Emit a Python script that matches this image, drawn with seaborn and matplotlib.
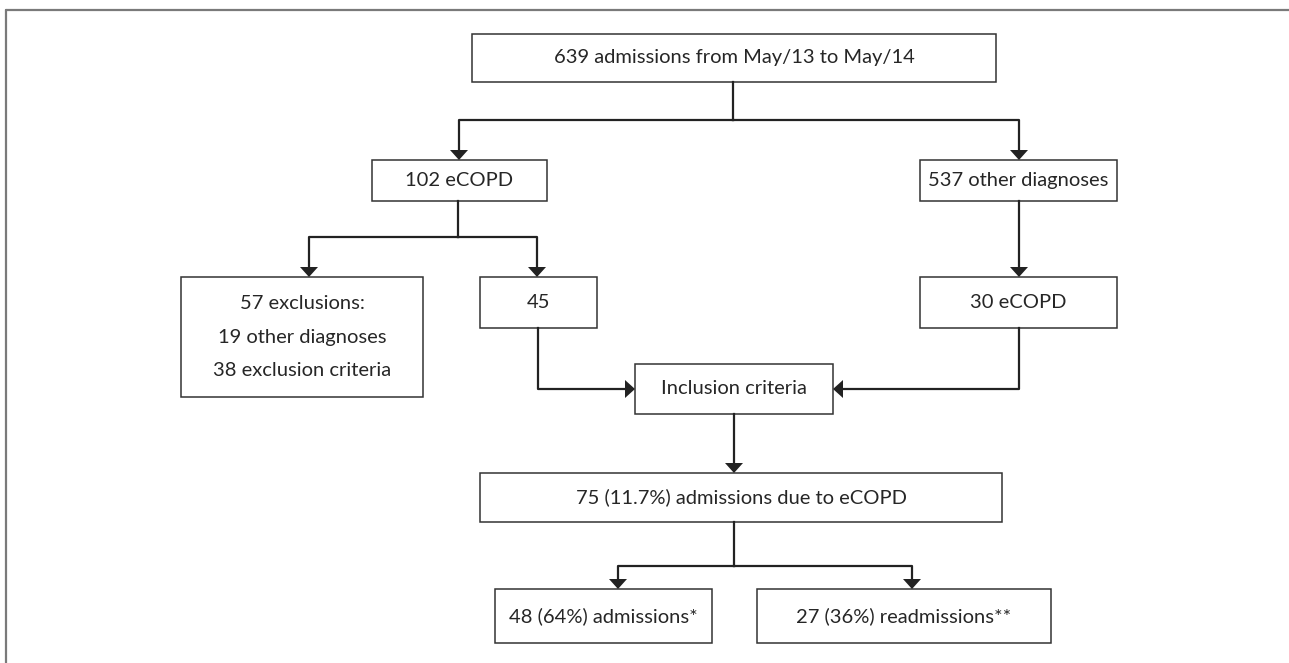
import matplotlib
matplotlib.use("Agg")
import matplotlib.pyplot as plt
from matplotlib.patches import Rectangle, Polygon
from matplotlib.lines import Line2D
import seaborn as sns

# flowchart content
box_names = ["total", "ecopd", "other", "excl", "kept", "other_ecopd",
             "incl", "final", "adm", "readm"]
box_labels = [
    "639 admissions from May/13 to May/14",
    "102 eCOPD",
    "537 other diagnoses",
    "57 exclusions:\n19 other diagnoses\n38 exclusion criteria",
    "45",
    "30 eCOPD",
    "Inclusion criteria",
    "75 (11.7%) admissions due to eCOPD",
    "48 (64%) admissions*",
    "27 (36%) readmissions**",
]

# layout (pixel coords: x0, x1, y0, y1)
box_geom = {
    "total": (472, 996, 34, 82),
    "ecopd": (372, 547, 160, 201),
    "other": (920, 1117, 160, 201),
    "excl": (181, 423, 277, 397),
    "kept": (480, 597, 277, 328),
    "other_ecopd": (920, 1117, 277, 328),
    "incl": (635, 833, 364, 414),
    "final": (480, 1002, 473, 522),
    "adm": (495, 712, 589, 643),
    "readm": (757, 1051, 589, 643),
}

# connectors: polyline, arrow at end or not
links = [
    ([(733, 82), (733, 120)], False),
    ([(733, 120), (459, 120), (459, 160)], True),
    ([(733, 120), (1019, 120), (1019, 160)], True),
    ([(458, 201), (458, 237)], False),
    ([(458, 237), (309, 237), (309, 277)], True),
    ([(458, 237), (537, 237), (537, 277)], True),
    ([(1019, 201), (1019, 277)], True),
    ([(538, 328), (538, 389), (635, 389)], True),
    ([(1019, 328), (1019, 389), (833, 389)], True),
    ([(734, 414), (734, 473)], True),
    ([(734, 522), (734, 566)], False),
    ([(734, 566), (618, 566), (618, 589)], True),
    ([(734, 566), (912, 566), (912, 589)], True),
]

sns.set_style("white")
plt.rcParams['font.family'] = ['Lato', 'DejaVu Sans']

W, H = 1289, 663
fig = plt.figure(figsize=(W / 100, H / 100), dpi=100)
ax = fig.add_axes([0, 0, 1, 1])
ax.set_xlim(0, W)
ax.set_ylim(H, 0)
ax.axis("off")

line_col = "#222222"
text_col = "#262626"

# outer frame (top and left only visible)
ax.add_line(Line2D([6, W + 5], [10, 10], color="#7a7a7a", lw=1.6))
ax.add_line(Line2D([6, 6], [10, H + 5], color="#7a7a7a", lw=1.6))

for name, label in zip(box_names, box_labels):
    x0, x1, y0, y1 = box_geom[name]
    ax.add_patch(Rectangle((x0, y0), x1 - x0, y1 - y0, fill=False,
                           edgecolor="#333333", lw=1.1))
    cx, cy = (x0 + x1) / 2, (y0 + y1) / 2
    ax.text(cx, cy, label, ha="center", va="center", fontsize=14.5,
            color=text_col, linespacing=2.2)

head_w, head_l = 9, 10
for pts, arrow in links:
    xs = [p[0] for p in pts]
    ys = [p[1] for p in pts]
    if arrow:
        (xa, ya), (xb, yb) = pts[-2], pts[-1]
        dx = (xb > xa) - (xb < xa)
        dy = (yb > ya) - (yb < ya)
        bx, by = xb - dx * head_l, yb - dy * head_l
        xs[-1], ys[-1] = bx, by
        tri = [(xb, yb), (bx - dy * head_w, by + dx * head_w),
               (bx + dy * head_w, by - dx * head_w)]
        ax.add_patch(Polygon(tri, closed=True, color=line_col, lw=0))
    ax.plot(xs, ys, color=line_col, lw=1.6, solid_capstyle="projecting")

fig.savefig("out.png", dpi=100)
